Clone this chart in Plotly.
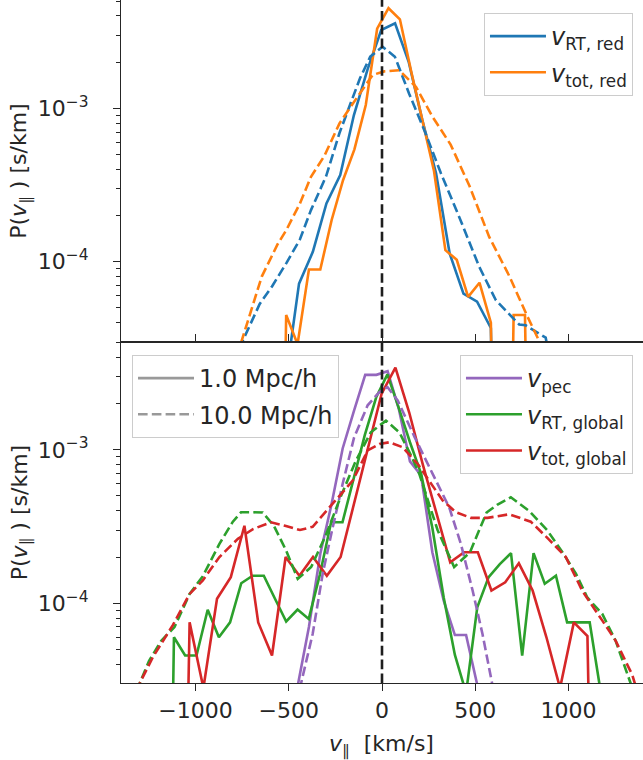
import math
import plotly.graph_objects as go
from plotly.subplots import make_subplots

# ---------------------------------------------------------------- data
# Top panel: reduced speed of light runs
v_rt_red_1 = [-592, -518, -445, -371, -298, -224, -151, -77, -4, 70, 143, 216, 290, 363, 437, 510, 584, 657]
p_rt_red_1 = [0, 1.65e-5, 7.2e-5, 1.16e-4, 2.4e-4, 3.67e-4, 9.0e-4, 1.8e-3, 3.24e-3, 3.58e-3, 2.01e-3,
              8.4e-4, 3.77e-4, 1.13e-4, 6.2e-5, 5.5e-5, 3.7e-5, 0]

v_tot_red_1 = [-575, -514, -453, -392, -331, -270, -209, -148, -87, -26, 35, 96, 157, 218, 279, 340, 401,
               462, 523, 584, 645, 706, 767, 828]
p_tot_red_1 = [0, 4.5e-5, 2.9e-5, 8.9e-5, 8.9e-5, 1.87e-4, 3.4e-4, 5.4e-4, 1.05e-3, 3.3e-3, 4.49e-3, 3.8e-3,
               1.73e-3, 8.1e-4, 3.9e-4, 1.19e-4, 1.03e-4, 5.9e-5, 7.3e-5, 4.0e-5, 0, 4.5e-5, 4.5e-5, 0]

v_rt_red_10 = [-830, -750, -656, -590, -513, -440, -381, -300, -228, -170, -118, -63, 3, 69, 145, 233, 316,
               414, 521, 611, 736, 771, 878, 930]
p_rt_red_10 = [1.5e-5, 3.0e-5, 5.3e-5, 6.9e-5, 9.8e-5, 1.4e-4, 2.17e-4, 3.6e-4, 6.9e-4, 1.05e-3, 1.57e-3,
               2.17e-3, 2.52e-3, 2.17e-3, 1.25e-3, 6.9e-4, 3.77e-4, 1.96e-4, 9.3e-5, 5.6e-5, 3.9e-5,
               3.85e-5, 3.2e-5, 1.5e-5]

v_tot_red_10 = [-800, -711, -645, -560, -513, -440, -381, -309, -228, -131, -50, 12, 93, 182, 271, 368, 470,
                575, 682, 780, 870, 920]
p_tot_red_10 = [2.0e-5, 4.4e-5, 8.0e-5, 1.3e-4, 1.61e-4, 2.4e-4, 3.58e-4, 4.9e-4, 7.98e-4, 1.19e-3, 1.65e-3,
                1.74e-3, 1.77e-3, 1.38e-3, 8.8e-4, 5.8e-4, 3.1e-4, 1.45e-4, 8.1e-5, 4.4e-5, 2.6e-5, 1.5e-5]

# Bottom panel: peculiar velocity and global runs
v_pec_1 = [-512, -452, -392, -331, -271, -211, -150, -90, -30, 30, 90, 150, 210, 270, 331, 391, 451, 512, 572]
p_pec_1 = [5e-6, 2.9e-5, 7.0e-5, 2.1e-4, 4.4e-4, 1.02e-3, 1.8e-3, 3.08e-3, 3.08e-3, 3.25e-3, 1.85e-3,
           8.4e-4, 6.8e-4, 2.15e-4, 1.04e-4, 6.2e-5, 6.2e-5, 2.9e-5, 5e-6]

v_pec_10 = [-500, -440, -372, -318, -265, -211, -150, -77, -14, 30, 84, 175, 271, 361, 423, 486, 539, 593, 650]
p_pec_10 = [8e-6, 2.8e-5, 6.3e-5, 1.56e-4, 3.1e-4, 6.0e-4, 1.2e-3, 1.95e-3, 2.38e-3, 2.56e-3, 2.1e-3,
            1.21e-3, 7.0e-4, 4.2e-4, 2.44e-4, 1.21e-4, 6.3e-5, 2.9e-5, 8e-6]

v_rt_glob_1 = [-1176, -1116, -1056, -995, -935, -875, -815, -755, -694, -634, -574, -514, -453, -393, -333,
               -273, -212, -152, -92, -31, 29, 89, 150, 210, 270, 331, 391, 451, 511, 572, 632, 692, 752,
               813, 873, 933, 993, 1054, 1114, 1174, 1234]
p_rt_glob_1 = [0, 6.0e-5, 4.56e-5, 4.56e-5, 9.06e-5, 6.0e-5, 7.5e-5, 1.35e-4, 1.51e-4, 1.51e-4, 1.07e-4,
               7.6e-5, 9.1e-5, 7.9e-5, 1.54e-4, 3.37e-4, 3.37e-4, 6.5e-4, 1.25e-3, 2.2e-3, 3.1e-3, 1.89e-3,
               1.12e-3, 6.97e-4, 3.1e-4, 1.09e-4, 4.6e-5, 2.6e-5, 9.4e-5, 1.48e-4, 1.8e-4, 2.12e-4, 4.56e-5,
               2.12e-4, 1.34e-4, 1.51e-4, 7.5e-5, 7.5e-5, 7.5e-5, 2.6e-5, 0]

v_tot_glob_1 = [-1105, -1032, -958, -885, -811, -738, -664, -590, -517, -443, -370, -296, -222, -149, -75,
                -2, 72, 146, 219, 293, 366, 440, 514, 587, 661, 734, 808, 882, 955, 1029, 1102, 1176]
p_tot_glob_1 = [0, 7.5e-5, 2.8e-5, 1.07e-4, 1.48e-4, 3.2e-4, 7.5e-5, 4.56e-5, 2.0e-4, 1.51e-4, 2.0e-4,
                1.51e-4, 2.0e-4, 4.5e-4, 1.02e-3, 2.32e-3, 3.43e-3, 1.75e-3, 8.0e-4, 3.9e-4, 1.85e-4,
                2.15e-4, 2.15e-4, 1.21e-4, 1.37e-4, 1.82e-4, 1.21e-4, 6.0e-5, 2.8e-5, 7.5e-5, 6.1e-5, 0]

v_rt_glob_10 = [-1340, -1300, -1250, -1184, -1113, -1032, -961, -872, -800, -756, -700, -640, -580, -514,
                -452, -380, -300, -220, -140, -60, 21, 93, 150, 200, 298, 387, 472, 561, 620, 691, 789, 887,
                968, 1040, 1101, 1182, 1253, 1334, 1370]
p_rt_glob_10 = [2.2e-5, 3.0e-5, 4.2e-5, 5.7e-5, 7.0e-5, 1.15e-4, 1.5e-4, 2.44e-4, 3.4e-4, 3.92e-4, 3.92e-4,
                3.9e-4, 3.2e-4, 2.2e-4, 1.44e-4, 1.72e-4, 2.8e-4, 5.0e-4, 8.5e-4, 1.3e-3, 1.55e-3, 1.3e-3,
                9.5e-4, 6.97e-4, 3.0e-4, 1.72e-4, 2.15e-4, 3.9e-4, 4.4e-4, 4.9e-4, 4.0e-4, 2.98e-4, 2.15e-4,
                1.56e-4, 1.09e-4, 8.5e-5, 5.7e-5, 3.0e-5, 2.0e-5]

v_tot_glob_10 = [-1340, -1300, -1229, -1122, -1032, -961, -872, -773, -690, -595, -520, -440, -372, -282,
                 -157, -77, -14, 39, 110, 191, 262, 325, 396, 477, 566, 682, 798, 896, 986, 1075, 1182,
                 1253, 1343, 1380]
p_tot_glob_10 = [2.2e-5, 3.0e-5, 4.45e-5, 7.2e-5, 1.15e-4, 1.41e-4, 2.0e-4, 2.63e-4, 3.05e-4, 3.37e-4,
                 3.2e-4, 3.0e-4, 3.15e-4, 4.2e-4, 6.3e-4, 9.9e-4, 1.09e-3, 1.12e-3, 1.04e-3, 8.1e-4, 6.0e-4,
                 4.68e-4, 3.92e-4, 3.6e-4, 3.6e-4, 3.8e-4, 3.4e-4, 2.6e-4, 2.0e-4, 1.2e-4, 7.7e-5, 5.7e-5,
                 3.4e-5, 2.4e-5]

x_ticks = [-1000, -500, 0, 500, 1000]
y_ticks = [1e-4, 1e-3]
y_ticktext = ["10<sup>\u22124</sup>", "10<sup>\u22123</sup>"]
y_minor = [3e-5, 4e-5, 5e-5, 6e-5, 7e-5, 8e-5, 9e-5,
           2e-4, 3e-4, 4e-4, 5e-4, 6e-4, 7e-4, 8e-4, 9e-4,
           2e-3, 3e-3, 4e-3, 5e-3]
x_limits = [-1400, 1400]
y_limits = [3.02e-5, 5.08e-3]
ref_velocity = 0
res_labels = ["1.0 Mpc/h", "10.0 Mpc/h"]

# ---------------------------------------------------------------- style
ZERO_FLOOR = 1e-9          # empty bins: clipped like matplotlib's log scale
TEXT = "#262626"
FONT = "DejaVu Sans"
LW = 2.6
DASH = "9.6px,4.2px"
C_BLUE, C_ORANGE, C_GREEN, C_RED, C_PURPLE = "#1f77b4", "#ff7f0e", "#2ca02c", "#d62728", "#9467bd"


def clip(p):
    return [max(v, ZERO_FLOOR) for v in p]


fig = make_subplots(rows=2, cols=1, shared_xaxes=True, vertical_spacing=0)


def add(v, p, color, dash, row, name=None, legend=None, group=None):
    fig.add_trace(go.Scatter(
        x=v, y=clip(p), mode="lines",
        line=dict(color=color, width=LW, dash=dash),
        name=name, showlegend=name is not None,
        legend=legend, legendgroup=group, hoverinfo="skip"),
        row=row, col=1)


# top panel
add(v_rt_red_1, p_rt_red_1, C_BLUE, "solid", 1, "<i>v</i><sub>RT, red</sub>", "legend", "a")
add(v_tot_red_1, p_tot_red_1, C_ORANGE, "solid", 1, "<i>v</i><sub>tot, red</sub>", "legend", "b")
add(v_rt_red_10, p_rt_red_10, C_BLUE, DASH, 1)
add(v_tot_red_10, p_tot_red_10, C_ORANGE, DASH, 1)

# bottom panel
add(v_pec_1, p_pec_1, C_PURPLE, "solid", 2, "<i>v</i><sub>pec</sub>", "legend2", "c")
add(v_rt_glob_1, p_rt_glob_1, C_GREEN, "solid", 2, "<i>v</i><sub>RT, global</sub>", "legend2", "d")
add(v_tot_glob_1, p_tot_glob_1, C_RED, "solid", 2, "<i>v</i><sub>tot, global</sub>", "legend2", "e")
add(v_pec_10, p_pec_10, C_PURPLE, DASH, 2)
add(v_rt_glob_10, p_rt_glob_10, C_GREEN, DASH, 2)
add(v_tot_glob_10, p_tot_glob_10, C_RED, DASH, 2)

# line-style legend (resolution)
for lbl, dsh, grp in zip(res_labels, ["solid", DASH], ["f", "g"]):
    fig.add_trace(go.Scatter(x=[None], y=[None], mode="lines",
                             line=dict(color="#999999", width=LW, dash=dsh),
                             name=lbl, legend="legend3", legendgroup=grp),
                  row=2, col=1)

# vertical reference line through both panels
fig.add_shape(type="line", xref="x", yref="paper", x0=ref_velocity, x1=ref_velocity, y0=0, y1=1,
              line=dict(color="#1e1e1e", width=LW, dash=DASH), layer="above")

axis_common = dict(showgrid=False, zeroline=False, showline=True, linecolor=TEXT, linewidth=1.25,
                   tickcolor=TEXT, tickwidth=1.25, ticklen=7,
                   tickfont=dict(family=FONT, size=22, color=TEXT))

fig.update_xaxes(range=x_limits, tickmode="array", tickvals=x_ticks, mirror=True, **axis_common)
fig.update_xaxes(ticks="inside", showticklabels=False, row=1, col=1)
fig.update_xaxes(ticks="outside", showticklabels=True, row=2, col=1)

fig.update_yaxes(type="log", range=[math.log10(y_limits[0]), math.log10(y_limits[1])],
                 tickmode="array", tickvals=y_ticks, ticktext=y_ticktext, ticks="outside",
                 ticklabelstandoff=20, mirror=False,
                 minor=dict(ticks="outside", ticklen=4, tickwidth=1, tickcolor=TEXT,
                            tickmode="array", tickvals=y_minor, showgrid=False),
                 **axis_common)

legend_common = dict(bgcolor="rgba(255,255,255,0.8)", bordercolor="#cccccc", borderwidth=1,
                     font=dict(family=FONT, size=24, color=TEXT), xref="paper", yref="paper",
                     tracegroupgap=2, itemwidth=56)

ylab = "P(<i>v</i><sub>\u2225</sub> ) [s/km]"
fig.update_layout(
    width=643, height=760,
    margin=dict(l=121, r=0, t=0, b=77),
    paper_bgcolor="white", plot_bgcolor="white",
    font=dict(family=FONT, size=22, color=TEXT),
    legend=dict(x=0.9808, y=0.981, xanchor="right", yanchor="top", **legend_common),
    legend2=dict(x=0.9808, y=0.4802, xanchor="right", yanchor="top", **legend_common),
    legend3=dict(x=0.0211, y=0.4802, xanchor="left", yanchor="top", **legend_common),
    annotations=[
        dict(text=ylab, textangle=-90, xref="paper", yref="paper", x=-0.1916, y=0.75,
             xanchor="center", yanchor="middle", showarrow=False,
             font=dict(family=FONT, size=22, color=TEXT)),
        dict(text=ylab, textangle=-90, xref="paper", yref="paper", x=-0.1916, y=0.25,
             xanchor="center", yanchor="middle", showarrow=False,
             font=dict(family=FONT, size=22, color=TEXT)),
        dict(text="<i>v</i><sub>\u2225</sub>  [km/s]", xref="paper", yref="paper", x=0.499, y=-0.0908,
             xanchor="center", yanchor="middle", showarrow=False,
             font=dict(family=FONT, size=22, color=TEXT)),
    ],
)

fig.write_html("out.html")
